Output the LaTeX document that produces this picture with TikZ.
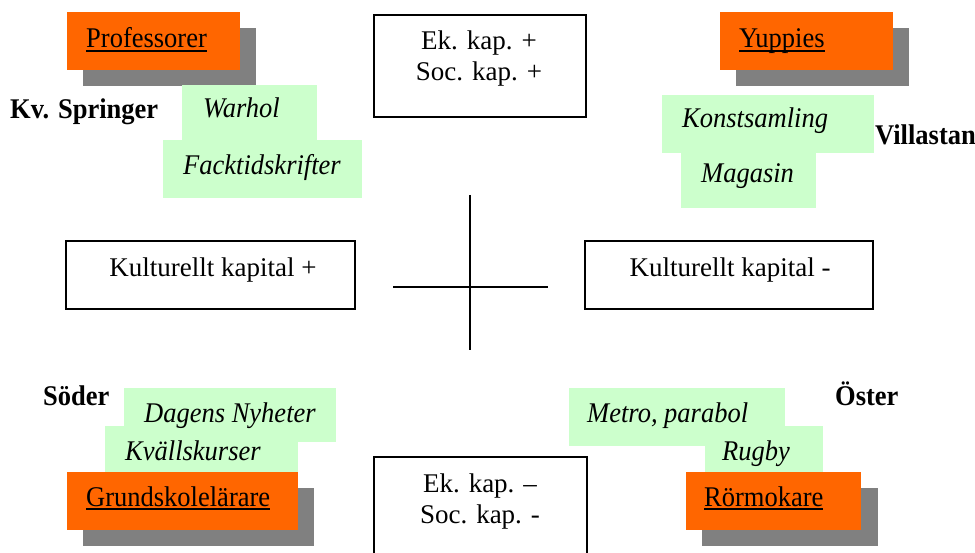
\documentclass[tikz,border=0pt]{standalone}
\usepackage{fontspec}
\setmainfont{Liberation Serif}
\newfontfamily\lblfont[FakeStretch=0.93]{Liberation Serif}
\definecolor{orng}{HTML}{FF6600}
\definecolor{shad}{HTML}{808080}
\definecolor{lgreen}{HTML}{CCFFCC}
\newcommand\myul[1]{\setbox0\hbox{#1}\rlap{\rule[-4.3pt]{\wd0}{2.2pt}}\box0}
\tikzset{
  txt/.style={anchor=base west, inner sep=0pt, font=\lblfont\fontsize{28.5}{32}\selectfont},
  ctxt/.style={anchor=base, inner sep=0pt, font=\fontsize{27}{31}\selectfont},
  ittxt/.style={anchor=base west, inner sep=0pt, font=\lblfont\fontsize{28.5}{32}\selectfont\itshape},
  bftxt/.style={anchor=base west, inner sep=0pt, font=\lblfont\fontsize{28.5}{32}\selectfont\bfseries},
  greenbox/.style={fill=lgreen},
  orangebox/.style={fill=orng},
  shadowbox/.style={fill=shad},
  framebox/.style={draw=black, line width=1.5pt, fill=white},
}
\begin{document}
\begin{tikzpicture}[x=1pt,y=-1pt]
\useasboundingbox (0,0) rectangle (975,553);
% Top-left quadrant
\fill[shadowbox] (83,28) rectangle (256,86);
\fill[orangebox] (67,12) rectangle (240,70);
\node[txt] (prof) at (86,47.5) {\myul{Professorer}};
\fill[greenbox] (182,85) rectangle (317,140);
\fill[greenbox] (163,140) rectangle (362,198);
\node[ittxt] (warhol) at (203,118) {Warhol};
\node[ittxt] (fack) at (183,175) {Facktidskrifter};
\node[bftxt] (kvs) at (10,119) {Kv. Springer};
% Top middle box
\path[framebox] (374,15) rectangle (586,117);
\node[ctxt] (ekp1) at (479,50) {Ek. kap. +};
\node[ctxt] (socp1) at (479,81) {Soc. kap. +};
% Top-right quadrant
\fill[shadowbox] (736,28) rectangle (909,86);
\fill[orangebox] (720,12) rectangle (893,70);
\node[txt] (yup) at (739,47.5) {\myul{Yuppies}};
\fill[greenbox] (662,95) rectangle (874,153);
\fill[greenbox] (681,153) rectangle (816,208);
\node[ittxt] (konst) at (682,128) {Konstsamling};
\node[ittxt] (mag) at (701,183) {Magasin};
\node[bftxt] (villa) at (875,145) {Villastan};
% Middle
\path[framebox] (66,241) rectangle (355,309);
\node[ctxt] (kkp) at (213,277) {Kulturellt kapital +};
\path[framebox] (585,241) rectangle (873,309);
\node[ctxt] (kkm) at (730,277) {Kulturellt kapital -};
\coordinate (vt) at (470,195);
\coordinate (vb) at (470,350);
\coordinate (hl) at (393,287);
\coordinate (hr) at (548,287);
\draw[line width=1.2pt] (vt) -- (vb);
\draw[line width=2pt] (hl) -- (hr);
% Bottom-left quadrant
\node[bftxt] (soder) at (43,405) {Söder};
\fill[greenbox] (124,388) rectangle (336,442);
\fill[greenbox] (105,426) rectangle (298,472);
\node[ittxt] (dn) at (144,422) {Dagens Nyheter};
\node[ittxt] (kvall) at (125,460) {Kvällskurser};
\fill[shadowbox] (83,488) rectangle (314,546);
\fill[orangebox] (67,472) rectangle (298,530);
\node[txt] (grund) at (86,506) {\myul{Grundskolelärare}};
% Bottom middle box
\path[framebox] (374,457) rectangle (587,560);
\node[ctxt] (ekm) at (480,492) {Ek. kap. –};
\node[ctxt] (socm) at (480,523) {Soc. kap. -};
% Bottom-right quadrant
\node[bftxt] (oster) at (835,405) {Öster};
\fill[greenbox] (569,388) rectangle (785,446);
\fill[greenbox] (705,426) rectangle (823,472);
\node[ittxt] (metro) at (587,422) {Metro, parabol};
\node[ittxt] (rugby) at (722,460) {Rugby};
\fill[shadowbox] (702,488) rectangle (878,546);
\fill[orangebox] (686,472) rectangle (861,530);
\node[txt] (ror) at (704,506) {\myul{Rörmokare}};
\end{tikzpicture}
\end{document}
